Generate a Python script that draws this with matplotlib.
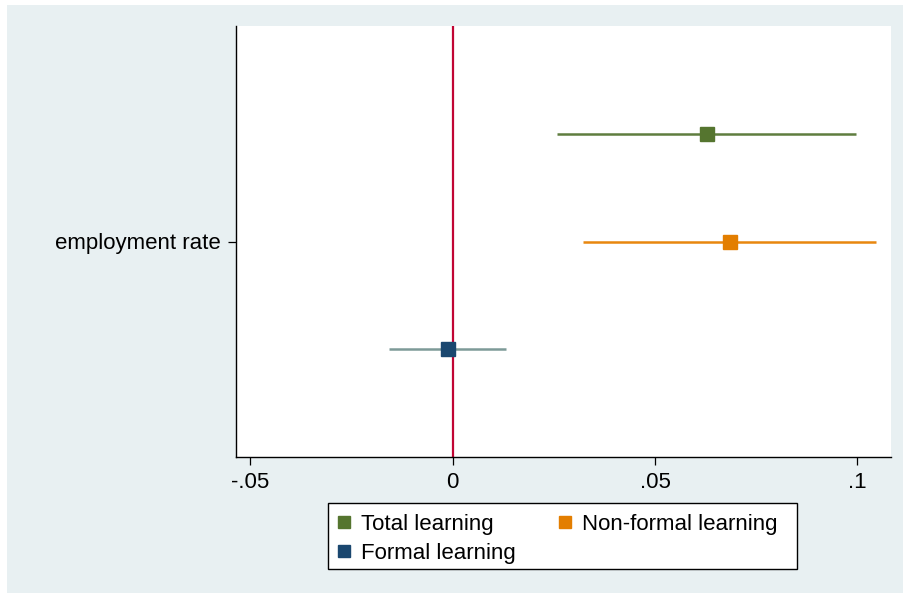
import matplotlib.pyplot as plt
from matplotlib.patches import Rectangle
from matplotlib.lines import Line2D

plt.rcParams["font.family"] = ["Liberation Sans", "DejaVu Sans"]

# coefficient estimates with 95% confidence bounds
series = ["Total learning", "Non-formal learning", "Formal learning"]
coef = [0.0629, 0.0686, -0.0011]
ci_low = [0.0259, 0.0322, -0.0158]
ci_high = [0.0996, 0.1047, 0.0133]
category = "employment rate"

marker_colors = ["#55752f", "#e37e00", "#1a476f"]
line_colors = ["#5f7d3f", "#e8870f", "#7d9a98"]
offsets = [-0.25, 0.0, 0.25]

W, H = 904, 594
fig = plt.figure(figsize=(W / 100, H / 100), dpi=100)
fig.patch.set_facecolor("white")
# graph region background
fig.patches.append(Rectangle((7 / W, 1 - 593 / H), 896 / W, 588 / H,
                             transform=fig.transFigure, facecolor="#e8f0f2",
                             edgecolor="none", zorder=-5))

ax = fig.add_axes([236 / W, 1 - 457 / H, 655 / W, 431 / H])
ax.set_facecolor("white")

ax.axvline(0, color="#c10534", lw=1.6, zorder=1)

for i in range(len(series)):
    y = 1 + offsets[i]
    ax.hlines(y, ci_low[i], ci_high[i], color=line_colors[i], lw=1.8, zorder=2)
    ax.plot(coef[i], y, marker="s", ms=9.5, color=marker_colors[i], ls="none", zorder=3)

ax.set_xlim(-0.0535, 0.1083)
ax.set_ylim(1.5, 0.5)
ax.set_xticks([-0.05, 0, 0.05, 0.1])
ax.set_xticklabels(["-.05", "0", ".05", ".1"])
ax.set_yticks([1])
ax.set_yticklabels([category])

for s in ["top", "right"]:
    ax.spines[s].set_visible(False)
for s in ["left", "bottom"]:
    ax.spines[s].set_linewidth(1.0)
    ax.spines[s].set_color("black")
ax.tick_params(axis="both", direction="out", length=6, width=0.9, labelsize=16, pad=5)

# legend box drawn separately so its padding can be uneven
fig.patches.append(Rectangle((328 / W, 1 - 569 / H), 469 / W, 66 / H,
                             transform=fig.transFigure, facecolor="white",
                             edgecolor="black", lw=1.0, zorder=1))

handles = [Line2D([], [], marker="s", ls="none", ms=9, color=marker_colors[i]) for i in range(3)]
order = [0, 2, 1]
leg = fig.legend([handles[i] for i in order], [series[i] for i in order],
                 ncol=2, loc="upper left", bbox_to_anchor=(335 / W, 1 - 514 / H),
                 fontsize=16, frameon=False,
                 handlelength=0.8, handletextpad=0.35, columnspacing=1.85,
                 borderpad=0, labelspacing=0.35, borderaxespad=0)
leg.set_zorder(2)

fig.savefig("out.png", dpi=100)
